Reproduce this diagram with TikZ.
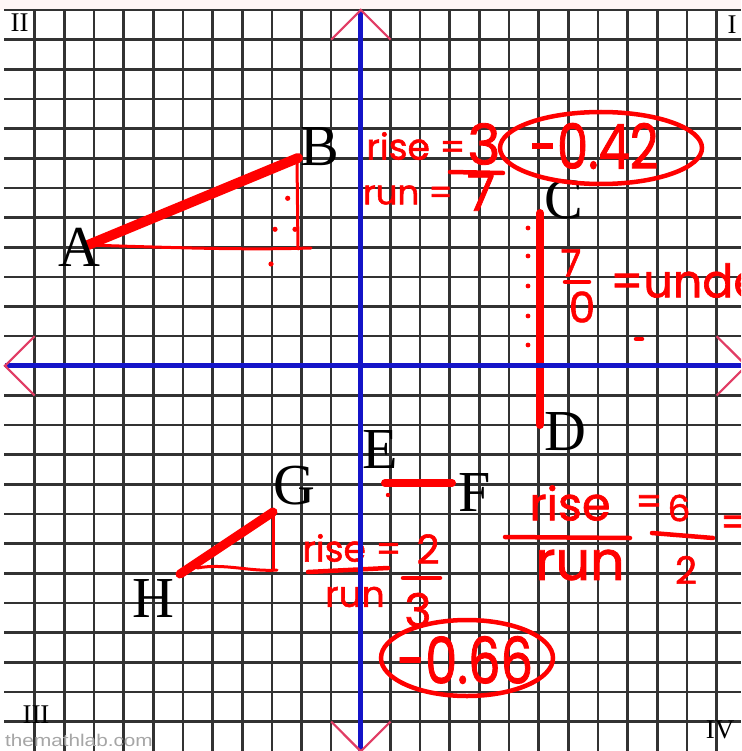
\documentclass[tikz,border=0pt]{standalone}
\usepackage{fontspec}
\setmainfont{Liberation Serif}
\newfontfamily\hand[FakeBold=1.5]{Poppins}
\newfontfamily\wmfont{Liberation Sans}
\definecolor{gridc}{RGB}{50,50,50}
\definecolor{axisc}{RGB}{20,20,200}
\definecolor{markc}{RGB}{225,60,100}
\definecolor{ink}{RGB}{255,0,0}
\definecolor{topstrip}{RGB}{255,245,245}
\tikzset{
  gridline/.style={gridc, line width=2.6},
  axisline/.style={axisc, line width=5},
  marker/.style={markc, line width=2.2},
  seg/.style={ink, line width=9, line cap=round},
  thinline/.style={ink, line width=3, line cap=round, line join=round},
  pen/.style={ink, line width=4.5, line cap=round},
  ptlabel/.style={inner sep=0, font=\fontsize{58}{58}\selectfont},
  quad/.style={inner sep=0, font=\fontsize{27}{27}\selectfont},
  hw/.style={text=ink, inner sep=0, font=\hand\fontsize{#1}{#1}\selectfont},
}
\begin{document}
\begin{tikzpicture}[x=1pt,y=-1pt]
\useasboundingbox (0,0) rectangle (741,751);
\clip (0,0) rectangle (741,751);
\fill[white] (0,0) rectangle (741,751);
\fill[topstrip] (0,0) rectangle (741,10);
% grid
\foreach \k in {-11,...,12} \draw[gridline] ({360.8+29.65*\k},10) -- ({360.8+29.65*\k},751);
\foreach \j in {0,...,24} \draw[gridline] (4,{10+29.65*\j}) -- (741,{10+29.65*\j});
% quadrant labels
\node[quad] (q2) at (19.5,23) {II};
\node[quad] (q1) at (732,25) {I};
\node[quad] (q3) at (36,715) {III};
\node[quad] (q4) at (720,730) {IV};
\node[anchor=base west, inner sep=0, text=black!35, font=\wmfont\fontsize{17}{17}\selectfont] (wm) at (5,746) {\scalebox{1.22}[1]{themathlab.com}};
% points
\coordinate (A) at (88,245);
\coordinate (B) at (298,158);
\coordinate (C) at (540,213);
\coordinate (D) at (540,425);
\coordinate (E) at (385,483);
\coordinate (F) at (452,483);
\coordinate (H) at (180,574);
\coordinate (G) at (273,512);
\coordinate (ABc) at (311,248);
\coordinate (ABv) at (297,161);
\coordinate (ABf) at (298,249);
\coordinate (HGs) at (197,568);
\coordinate (HGc) at (277,570);
\coordinate (HGf) at (273,570);
% AB
\draw[thinline] (A) .. controls (180,248) and (250,250) .. (ABc);
\draw[thinline] (ABv) -- (ABf);
\draw[seg, line width=10] (A) -- (B);
\foreach \p in {(287.7,198.3),(275,229.3),(295,229.3),(271,264)} \fill[ink] \p circle (2.6);
% CD
\draw[seg, line width=8] (C) -- (D);
\foreach \y in {228,256,286,316,345} \fill[ink] (528,\y) circle (2.4);
% EF
\draw[seg, line width=8] (E) -- (F);
\fill[ink] (388,495) circle (2.2);
% GH
\draw[thinline] (HGs) .. controls (225,563) and (250,572) .. (HGc);
\draw[thinline] (G) -- (HGf);
\draw[seg, line width=9] (H) -- (G);
% point labels
\node[ptlabel] (lA) at (79,247) {A};
\node[ptlabel] (lB) at (320,147) {B};
\node[ptlabel] (lC) at (564,200) {C};
\node[ptlabel] (lD) at (565,432) {D};
\node[ptlabel] (lE) at (380,450) {E};
\node[ptlabel] (lF) at (475,493) {F};
\node[ptlabel] (lG) at (294,486) {G};
\node[ptlabel] (lH) at (153,599) {H};
% handwriting AB
\node[hw=36] (rise1) at (416,146) {rise =};
\node[hw=56] (three1) at (484,144) {3};
\node[hw=34] (run1) at (408,195) {run =};
\node[hw=52] (seven1) at (481,192) {7};
\draw[pen] (450,172) -- (503,173);
\draw[pen] (601,148) ellipse [x radius=101, y radius=36];
\node[hw=62] (v042) at (594,146) {\scalebox{0.8}[1]{-0.42}};
% handwriting CD
\node[hw=38] (n7) at (571,263) {7};
\draw[pen] (565,282) -- (589,282);
\node[hw=42] (n0) at (582,307) {0};
\node[hw=46, anchor=west] (undef) at (610,280) {=undefined};
\draw[pen] (636,339) -- (642,339);
% handwriting GH
\node[hw=36] (rise2) at (352,548) {rise =};
\node[hw=40] (two2) at (428,549) {2};
\draw[pen] (308,572) -- (388,568);
\node[hw=36] (run2) at (355,597) {run};
\draw[pen] (403,578) -- (440,578);
\node[hw=46] (three2) at (418,610) {3};
\draw[pen] (467,658) ellipse [x radius=86, y radius=38];
\node[hw=64] (v066) at (465,660) {\scalebox{0.8}[1]{-0.66}};
% handwriting right
\node[hw=46] (rise3) at (570,503) {rise};
\node[hw=38] (eq3) at (649,505) {=};
\node[hw=36] (six3) at (679,508) {6};
\draw[pen] (505,537) -- (630,538);
\node[hw=54] (run3) at (580,565) {run};
\draw[pen] (652,533) -- (713,538);
\node[hw=38] (two3) at (686,570) {2};
\node[hw=40, anchor=west] (eq4) at (720,526) {=};
% axes
\draw[axisline] (360.8,10) -- (360.8,751);
\draw[axisline] (5,365.8) -- (741,365.8);
% axis end markers
\draw[marker] (331.2,39.65) -- (360.8,10) -- (390.5,39.65);
\draw[marker] (34.65,336.2) -- (5,365.8) -- (34.65,395.5);
\draw[marker] (716.6,336.2) -- (746.3,365.8) -- (716.6,395.5);
\draw[marker] (331.2,721.6) -- (360.8,751.3) -- (390.5,721.6);
\end{tikzpicture}
\end{document}
